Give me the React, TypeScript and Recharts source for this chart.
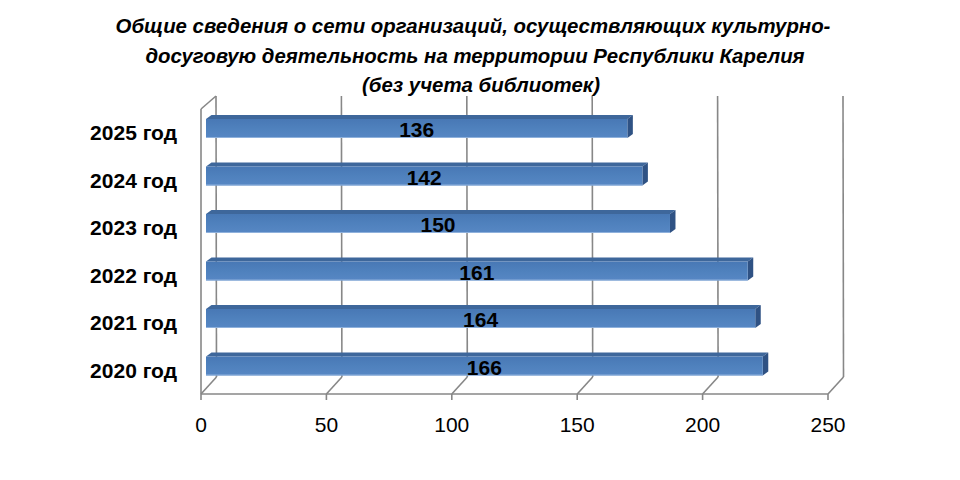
import React from 'react';
import { BarChart, Bar, XAxis, YAxis, CartesianGrid, LabelList } from 'recharts';

const years = ['2025 год', '2024 год', '2023 год', '2022 год', '2021 год', '2020 год'];
const barLengths = [168, 174, 185, 216, 219, 222];
const valueLabels = ['136', '142', '150', '161', '164', '166'];
const xTicks = [0, 50, 100, 150, 200, 250];
const frameTicks = [0, 1, 2, 3, 4, 5, 6];
const titleLines = [
  'Общие сведения о сети организаций, осуществляющих культурно-',
  'досуговую деятельность на территории Республики Карелия',
  '(без учета библиотек)',
];

const data = years.map((year, i) => ({ year, value: barLengths[i], label: valueLabels[i] }));

const FONT = '"Liberation Sans", Arial, sans-serif';
const GRID = '#878787';
const FACE_DX = 5;
const FACE_DY = -4;
const DEPTH_X = 5.5;
const DEPTH_Y = -4;
const WALL_TOP_DX = 15;
const WALL_TOP_DY = -13;
const WALL_BOT_DX = 15.5;
const WALL_BOT_DY = -17;

function Bar3D(props: any) {
  const { x, y, width, height } = props;
  const fx = x + FACE_DX;
  const fy = y + FACE_DY;
  const top = `M${fx},${fy} L${fx + DEPTH_X},${fy + DEPTH_Y} L${fx + width + DEPTH_X},${fy + DEPTH_Y} L${fx + width},${fy} Z`;
  const side = `M${fx + width},${fy} L${fx + width + DEPTH_X},${fy + DEPTH_Y} L${fx + width + DEPTH_X},${fy + height + DEPTH_Y} L${fx + width},${fy + height} Z`;
  return (
    <g>
      <path d={top} fill="#3e679b" />
      <path d={side} fill="#2f5284" />
      <rect x={fx} y={fy} width={width} height={height} fill="url(#frontGrad)" />
      <line x1={fx} y1={fy + height - 0.5} x2={fx + width} y2={fy + height - 0.5} stroke="#8fb1dc" strokeWidth={1} />
    </g>
  );
}

function ValueLabel(props: any) {
  const { x, y, width, height, value } = props;
  const cx = x + FACE_DX + width / 2;
  const cy = y + FACE_DY + height / 2;
  return (
    <text x={cx} y={cy + 8.5} textAnchor="middle" fontFamily={FONT} fontWeight="bold" fontSize={21} fill="#000">
      {value}
    </text>
  );
}

function GridLine(p: any) {
  const { x1, y1, y2, index } = p;
  const isLeft = typeof p.x === 'number' ? Math.abs(x1 - p.x) < 0.5 : index === 0;
  return (
    <g key={p.key ?? `g-${index}`}>
      <line x1={x1 + WALL_TOP_DX} y1={y1 + WALL_TOP_DY} x2={x1 + WALL_BOT_DX} y2={y2 + WALL_BOT_DY} stroke={GRID} strokeWidth={1.6} />
      <line x1={x1} y1={y2} x2={x1 + WALL_BOT_DX} y2={y2 + WALL_BOT_DY} stroke={GRID} strokeWidth={1.6} />
      {isLeft && (
        <line x1={x1} y1={y1} x2={x1 + WALL_TOP_DX} y2={y1 + WALL_TOP_DY} stroke={GRID} strokeWidth={1.6} />
      )}
    </g>
  );
}

export default function App() {
  return (
    <div style={{ position: 'absolute', left: 0, top: 0, width: 960, height: 480, background: '#fff' }}>
      <svg width={960} height={480} style={{ position: 'absolute', left: 0, top: 0 }}>
        <g fontFamily={FONT} fontWeight="bold" fontStyle="italic" fontSize={20.4} fill="#000">
          <text x={473} y={33} textAnchor="middle">{titleLines[0]}</text>
          <text x={475} y={63} textAnchor="middle">{titleLines[1]}</text>
          <text x={481} y={92} textAnchor="middle">{titleLines[2]}</text>
        </g>
      </svg>
      <div style={{ position: 'absolute', left: 0, top: 0 }}>
        <BarChart
          width={960}
          height={480}
          data={data}
          layout="vertical"
          margin={{ top: 109, right: 132, bottom: 0, left: 0 }}
          barSize={19}
        >
          <defs>
            <linearGradient id="frontGrad" x1="0" y1="0" x2="0" y2="1">
              <stop offset="0" stopColor="#4878b5" />
              <stop offset="0.5" stopColor="#4f81bd" />
              <stop offset="1" stopColor="#5787c4" />
            </linearGradient>
          </defs>
          <CartesianGrid horizontal={false} vertical={GridLine} stroke={GRID} />
          <XAxis
            type="number"
            domain={[0, 250]}
            ticks={xTicks}
            height={86}
            tickSize={6}
            tickMargin={17}
            stroke={GRID}
            strokeWidth={1.6}
            tick={{ fontFamily: FONT, fontSize: 21, fill: '#000' }}
            allowDataOverflow
          />
          <YAxis
            yAxisId="b"
            type="category"
            dataKey="year"
            width={193}
            axisLine={false}
            tickLine={false}
            tickSize={0}
            tickMargin={16}
            tick={{ fontFamily: FONT, fontSize: 21, fontWeight: 'bold', fill: '#000' }}
          />
          <YAxis
            yAxisId="a"
            type="number"
            domain={[0, 6]}
            ticks={frameTicks}
            width={8}
            tick={false}
            tickSize={6}
            stroke={GRID}
            strokeWidth={1.6}
            allowDataOverflow
          />
          <Bar yAxisId="b" dataKey="value" shape={Bar3D} isAnimationActive={false}>
            <LabelList dataKey="label" content={ValueLabel} />
          </Bar>
        </BarChart>
      </div>
    </div>
  );
}
